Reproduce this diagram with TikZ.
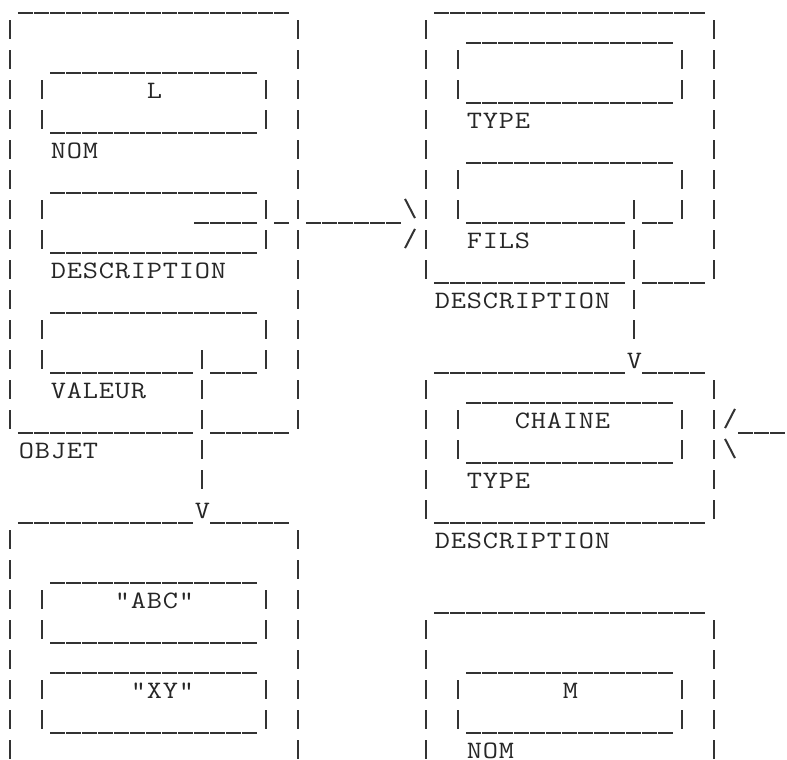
\documentclass[tikz,border=0pt]{standalone}
\usepackage{graphicx}
\newlength\cellw
\setlength\cellw{8pt}
% one character per cell of the text grid
\def\spreadcells#1{\ifx#1\relax\else\makebox[\cellw]{\scalebox{1.18}[1]{#1}}\expandafter\spreadcells\fi}
\newcommand\mono[1]{\spreadcells#1\relax}
\begin{document}
\begin{tikzpicture}[x=8pt, y=-15pt,
    bar/.style={line width=1pt, draw=black!80},
    usc/.style={line width=1pt, draw=black!80, dash pattern=on 7.5pt off 0.5pt},
    lbl/.style={anchor=base west, inner sep=0pt, text=black!85,
                font=\fontsize{12.5}{15}\selectfont\ttfamily}]
      \useasboundingbox (-0.125,0) rectangle (49.0625,25.333);
      % --- OBJET ---
      \begin{scope}
        \foreach \r/\a/\b in {0/1/17, 2/3/15, 4/3/15, 6/3/15, 7/12/15, 7/17/17,
                              7/19/24, 8/3/15, 10/3/15, 12/3/11, 12/13/15,
                              14/1/11, 14/13/17} {
          \draw[usc] (\a,\r+0.433) -- (\b+1,\r+0.433);
        }
        \foreach \r in {1,...,14} {
          \draw[bar] (0.5,\r-0.333) -- (0.5,\r+0.3);
          \draw[bar] (18.5,\r-0.333) -- (18.5,\r+0.3);
        }
        \foreach \r in {3,4,7,8,11,12} {
          \draw[bar] (2.5,\r-0.333) -- (2.5,\r+0.3);
          \draw[bar] (16.5,\r-0.333) -- (16.5,\r+0.3);
        }
        % lien VALEUR -> liste
        \foreach \r in {12,...,16}
          \draw[bar] (12.5,\r-0.333) -- (12.5,\r+0.3);
        % pointe vers DESCRIPTION
        \draw[bar] (25.19,6.63) -- (25.81,7.27);
        \draw[bar] (25.19,8.27) -- (25.81,7.63);
        \node[lbl] (valL) at (9,3.267) {\mono{L}};
        \node[lbl] (nomL) at (3,5.267) {\mono{NOM}};
        \node[lbl] (descL) at (3,9.267) {\mono{DESCRIPTION}};
        \node[lbl] (valeur) at (3,13.267) {\mono{VALEUR}};
        \node[lbl] (objet) at (1,15.267) {\mono{OBJET}};
      \end{scope}
      % --- liste des valeurs ---
      \begin{scope}
        \foreach \r/\a/\b in {17/1/11, 17/13/17, 19/3/15, 21/3/15, 22/3/15, 24/3/15} {
          \draw[usc] (\a,\r+0.433) -- (\b+1,\r+0.433);
        }
        \foreach \r in {18,...,25} {
          \draw[bar] (0.5,\r-0.333) -- (0.5,\r+0.3);
          \draw[bar] (18.5,\r-0.333) -- (18.5,\r+0.3);
        }
        \foreach \r in {20,21,23,24} {
          \draw[bar] (2.5,\r-0.333) -- (2.5,\r+0.3);
          \draw[bar] (16.5,\r-0.333) -- (16.5,\r+0.3);
        }
        \node[lbl] (tipL) at (12,17.267) {\mono{V}};
        \node[lbl] (abc) at (7,20.267) {\mono{"ABC"}};
        \node[lbl] (xy) at (8,23.267) {\mono{"XY"}};
      \end{scope}
      % --- DESCRIPTION (TYPE, FILS) ---
      \begin{scope}
        \foreach \r/\a/\b in {0/27/43, 1/29/41, 3/29/41, 5/29/41, 7/29/38,
                              7/40/41, 9/27/38, 9/40/43} {
          \draw[usc] (\a,\r+0.433) -- (\b+1,\r+0.433);
        }
        \foreach \r in {1,...,9} {
          \draw[bar] (26.5,\r-0.333) -- (26.5,\r+0.3);
          \draw[bar] (44.5,\r-0.333) -- (44.5,\r+0.3);
        }
        \foreach \r in {2,3,6,7} {
          \draw[bar] (28.5,\r-0.333) -- (28.5,\r+0.3);
          \draw[bar] (42.5,\r-0.333) -- (42.5,\r+0.3);
        }
        % lien FILS -> description suivante
        \foreach \r in {7,...,11}
          \draw[bar] (39.5,\r-0.333) -- (39.5,\r+0.3);
        \node[lbl] (typeA) at (29,4.267) {\mono{TYPE}};
        \node[lbl] (fils) at (29,8.267) {\mono{FILS}};
        \node[lbl] (descA) at (27,10.267) {\mono{DESCRIPTION}};
      \end{scope}
      % --- DESCRIPTION (CHAINE) ---
      \begin{scope}
        \foreach \r/\a/\b in {12/27/38, 12/40/43, 13/29/41, 14/46/48, 15/29/41, 17/27/43} {
          \draw[usc] (\a,\r+0.433) -- (\b+1,\r+0.433);
        }
        \foreach \r in {13,...,17} {
          \draw[bar] (26.5,\r-0.333) -- (26.5,\r+0.3);
          \draw[bar] (44.5,\r-0.333) -- (44.5,\r+0.3);
        }
        \foreach \r in {14,15} {
          \draw[bar] (28.5,\r-0.333) -- (28.5,\r+0.3);
          \draw[bar] (42.5,\r-0.333) -- (42.5,\r+0.3);
        }
        % pointe venant de la droite
        \draw[bar] (45.19,14.27) -- (45.81,13.63);
        \draw[bar] (45.19,14.63) -- (45.81,15.27);
        \node[lbl] (tipA) at (39,12.267) {\mono{V}};
        \node[lbl] (chaine) at (32,14.267) {\mono{CHAINE}};
        \node[lbl] (typeB) at (29,16.267) {\mono{TYPE}};
        \node[lbl] (descB) at (27,18.267) {\mono{DESCRIPTION}};
      \end{scope}
      % --- NOM M ---
      \begin{scope}
        \foreach \r/\a/\b in {20/27/43, 22/29/41, 24/29/41} {
          \draw[usc] (\a,\r+0.433) -- (\b+1,\r+0.433);
        }
        \foreach \r in {21,...,25} {
          \draw[bar] (26.5,\r-0.333) -- (26.5,\r+0.3);
          \draw[bar] (44.5,\r-0.333) -- (44.5,\r+0.3);
        }
        \foreach \r in {23,24} {
          \draw[bar] (28.5,\r-0.333) -- (28.5,\r+0.3);
          \draw[bar] (42.5,\r-0.333) -- (42.5,\r+0.3);
        }
        \node[lbl] (valM) at (35,23.267) {\mono{M}};
        \node[lbl] (nomM) at (29,25.267) {\mono{NOM}};
      \end{scope}
    \end{tikzpicture}
\end{document}
